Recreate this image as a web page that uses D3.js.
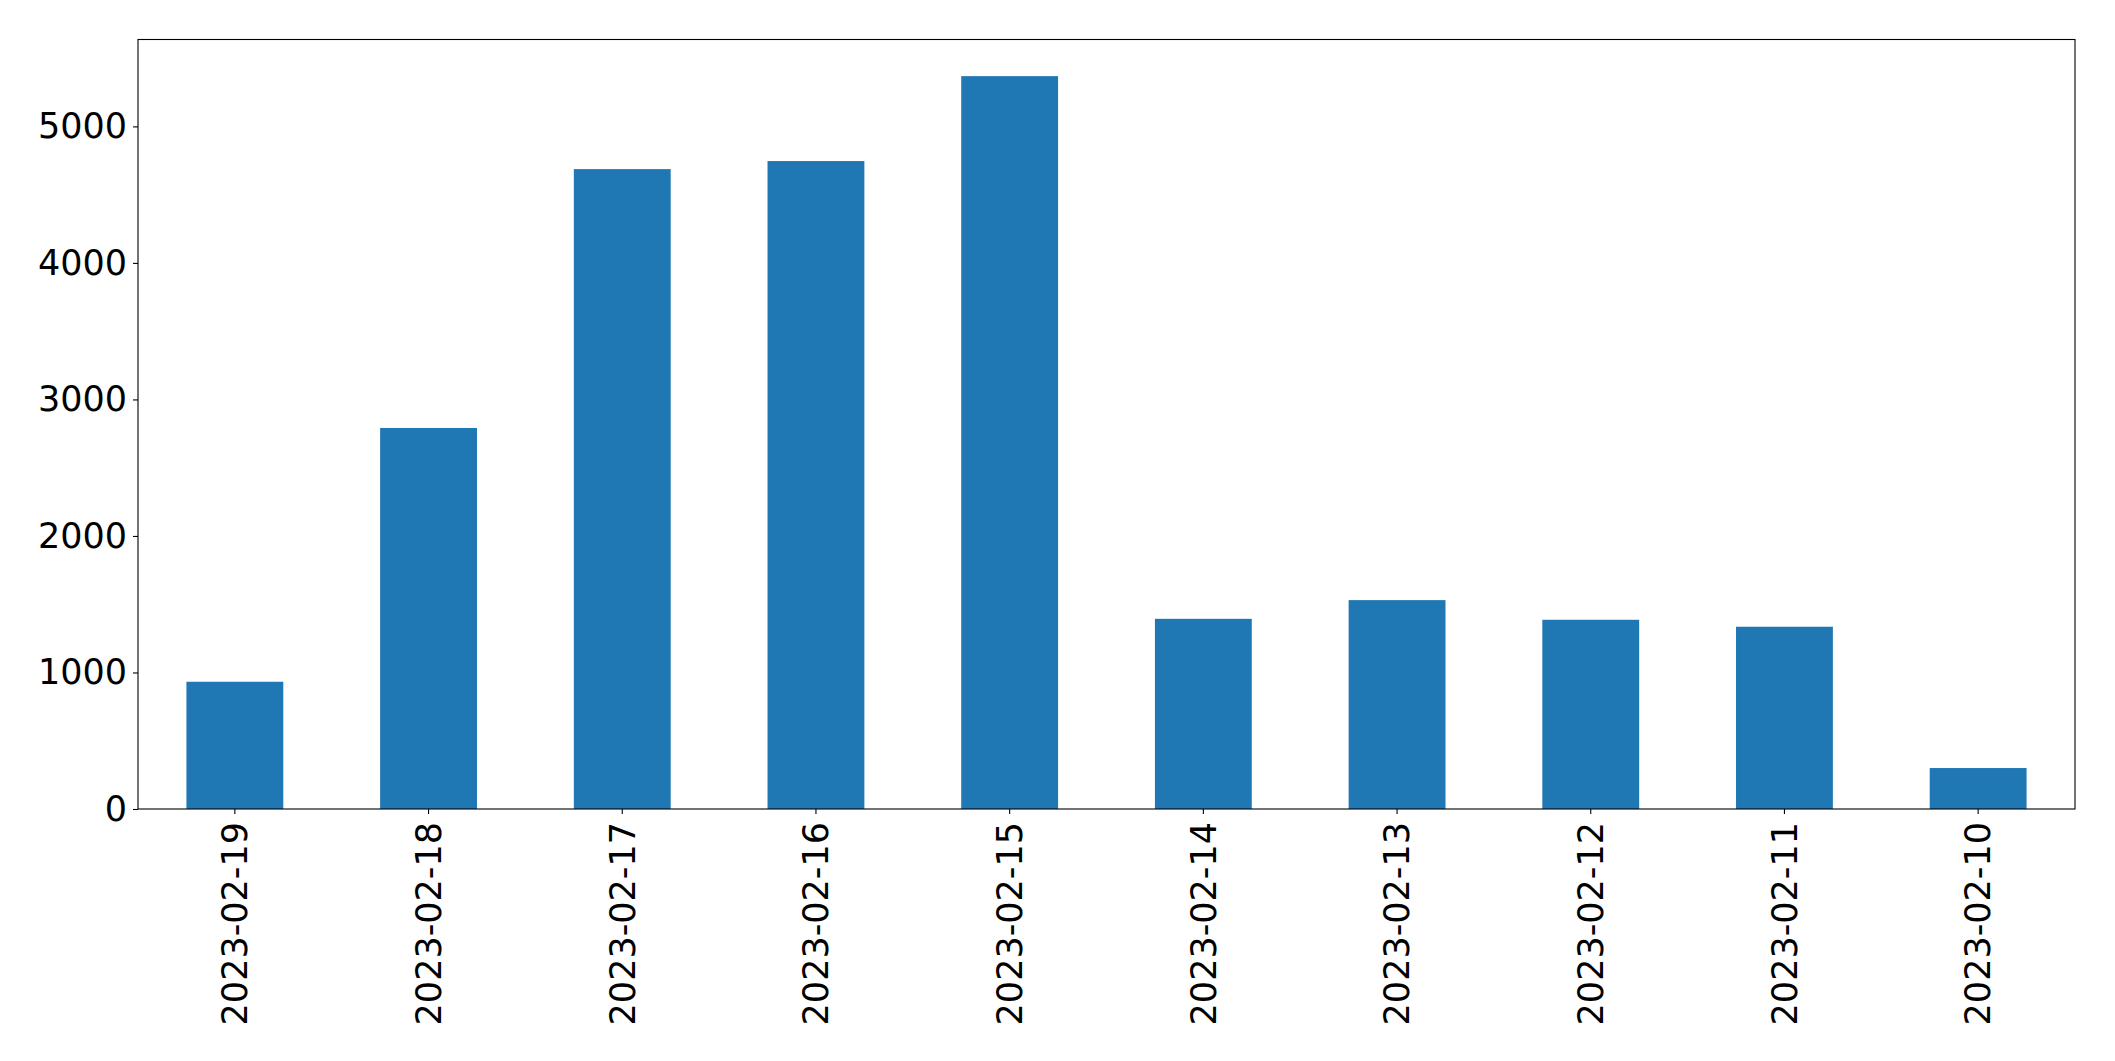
<!DOCTYPE html>
<html>
<head>
<meta charset="utf-8">
<script src="https://cdn.jsdelivr.net/npm/d3@7"></script>
<style>
    body { margin: 0; background: #fff; }
    svg { display: block; }
    .tick text { font-family: 'DejaVu Sans', sans-serif; font-size: 35px; fill: #000; }
    .domain, .tick line { stroke: #000; stroke-width: 1.1; }
</style>
</head>
<body>
<svg class="chart"></svg>
<script>
var dates = ['2023-02-19', '2023-02-18', '2023-02-17', '2023-02-16', '2023-02-15',
             '2023-02-14', '2023-02-13', '2023-02-12', '2023-02-11', '2023-02-10'];
var counts = [932, 2791, 4687, 4746, 5368, 1393, 1530, 1386, 1335, 300];
var yTicks = [0, 1000, 2000, 3000, 4000, 5000];

(function() {
    var p = {};
        p.outerWidth = 2115;
        p.outerHeight = 1061;
        p.margin = {top: 39.5, right: 40, bottom: 252, left: 138};
        p.width = p.outerWidth - p.margin.left - p.margin.right;
        p.height = p.outerHeight - p.margin.top - p.margin.bottom;
        p.barColor = '#1f77b4';

    var svg = d3.select('.chart')
        .attr('width', p.outerWidth)
        .attr('height', p.outerHeight);

    var chart = svg.append('g')
        .attr('transform', 'translate(' + p.margin.left + ',' + p.margin.top + ')');

    //-----  Scales  -----//
    var x = d3.scaleBand()
        .domain(dates)
        .range([0, p.width])
        .paddingInner(0.5)
        .paddingOuter(0.25);
    var y = d3.scaleLinear()
        .domain([0, d3.max(counts) * 1.05])
        .range([p.height, 0]);

    //-----  Bars  -----//
    chart.selectAll('rect.bar')
        .data(dates)
        .enter().append('rect')
            .attr('class', 'bar')
            .attr('fill', p.barColor)
            .attr('x', function(d) { return x(d); })
            .attr('width', x.bandwidth())
            .attr('y', function(d, i) { return y(counts[i]); })
            .attr('height', function(d, i) { return p.height - y(counts[i]); });

    //-----  Axes  -----//
    var xAxis = chart.append('g')
        .attr('transform', 'translate(0,' + p.height + ')')
        .call(d3.axisBottom(x).tickSizeInner(5).tickSizeOuter(0).tickPadding(6));
    xAxis.selectAll('.tick text')
        .attr('transform', 'rotate(-90)')
        .attr('text-anchor', 'end')
        .attr('x', -13)
        .attr('y', 0)
        .attr('dy', '0.35em');
    xAxis.select('.domain').remove();

    chart.append('g')
        .call(d3.axisLeft(y).tickValues(yTicks).tickFormat(d3.format('d'))
            .tickSizeInner(5).tickSizeOuter(0).tickPadding(6))
        .select('.domain').remove();

    //-----  Frame  -----//
    chart.append('rect')
        .attr('width', p.width)
        .attr('height', p.height)
        .attr('fill', 'none')
        .attr('stroke', '#000')
        .attr('stroke-width', 1.1);
})();
</script>
</body>
</html>
